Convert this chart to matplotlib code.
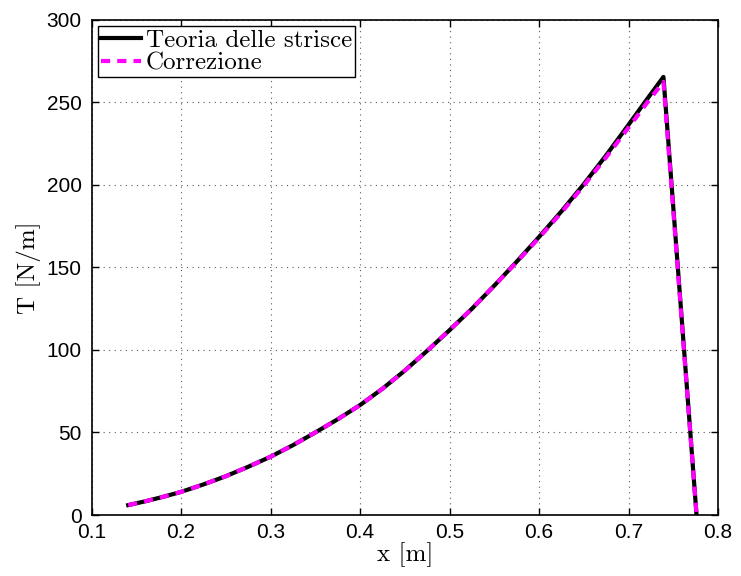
import matplotlib.pyplot as plt

# dati
x_strisce = [0.141, 0.16, 0.18, 0.2, 0.225, 0.25, 0.275, 0.3, 0.325, 0.35, 0.375, 0.4,
             0.425, 0.45, 0.475, 0.5, 0.525, 0.55, 0.575, 0.6, 0.625, 0.65, 0.675, 0.7,
             0.72, 0.739, 0.776]
T_strisce = [6.0, 8.3, 11.0, 14.0, 18.5, 23.5, 29.2, 35.3, 42.3, 50.0, 58.0, 66.6,
             76.5, 87.5, 99.5, 112.0, 125.0, 139.0, 153.5, 168.5, 184.0, 200.5, 218.0, 236.5,
             251.5, 265.5, 0.0]

x_corr = [0.141, 0.16, 0.18, 0.2, 0.225, 0.25, 0.275, 0.3, 0.325, 0.35, 0.375, 0.4,
          0.425, 0.45, 0.475, 0.5, 0.525, 0.55, 0.575, 0.6, 0.625, 0.65, 0.675, 0.7,
          0.72, 0.739, 0.776]
T_corr = [6.0, 8.3, 11.0, 14.0, 18.5, 23.5, 29.2, 35.3, 42.3, 50.0, 58.0, 66.6,
          76.5, 87.5, 99.5, 112.0, 125.0, 139.0, 153.2, 168.0, 183.3, 199.6, 216.8, 234.8,
          249.3, 262.5, 0.0]

xticks = [0.1, 0.2, 0.3, 0.4, 0.5, 0.6, 0.7, 0.8]
yticks = [0, 50, 100, 150, 200, 250, 300]

plt.rcParams['font.family'] = ['Liberation Sans', 'DejaVu Sans']

fig = plt.figure(figsize=(7.41, 5.76), dpi=100)
ax = fig.add_axes([0.1235, 0.1059, 0.8455, 0.8594])

ax.plot(x_strisce, T_strisce, color='k', lw=3, label='Teoria delle strisce')
ax.plot(x_corr, T_corr, color='magenta', lw=3, ls=(0, (2.2, 1.7)), label='Correzione')

ax.set_xlim(0.1, 0.8)
ax.set_ylim(0, 300)
ax.set_xticks(xticks)
ax.set_yticks(yticks)
ax.set_xticklabels([f'{v:g}' for v in xticks])
ax.set_yticklabels([str(v) for v in yticks])
ax.tick_params(direction='in', top=True, right=True, labelsize=15, length=5, width=1)
ax.tick_params(axis='x', pad=6)
ax.tick_params(axis='y', pad=7)
ax.grid(True, ls=(0, (1, 4)), color='0.35', lw=0.8)
for s in ax.spines.values():
    s.set_linewidth(1.2)

ax.set_xlabel('x [m]', fontfamily='cmr10', fontsize=18, labelpad=0)
ax.set_ylabel('T [N/m]', fontfamily='cmr10', fontsize=18, labelpad=4)

leg = ax.legend(loc='upper left', prop={'family': 'cmr10', 'size': 18},
                fancybox=False, edgecolor='k', framealpha=1, borderpad=0.12,
                handlelength=1.6, handletextpad=0.2, labelspacing=0.0,
                borderaxespad=0.26)
leg.get_frame().set_linewidth(1.0)

fig.savefig('out.png', dpi=100)
